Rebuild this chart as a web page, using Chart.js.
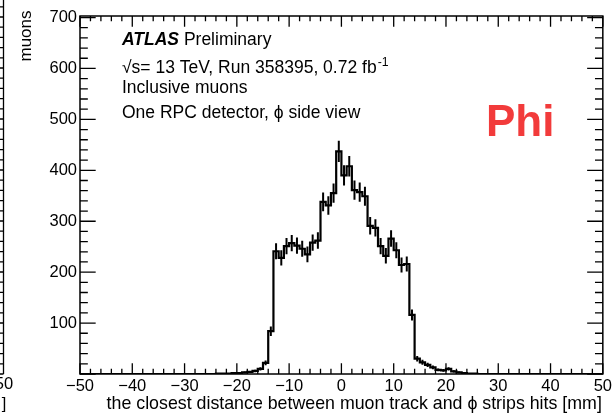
<!DOCTYPE html>
<html>
<head>
<meta charset="utf-8">
<script src="https://cdn.jsdelivr.net/npm/chart.js@4.4.0/dist/chart.umd.min.js"></script>
<style>
  html, body { margin: 0; padding: 0; background: #ffffff; }
  #wrap { width: 615px; height: 414px; position: relative; }
</style>
</head>
<body>
<div id="wrap"><canvas id="c" width="615" height="414"></canvas></div>
<script>
// Closest distance between the muon track and the phi-strip hits, 1 mm bins over [-50, 50] mm
const xRange = [-50, 50];
const binWidth = 1;
const counts = [
  0, 0, 0, 0, 0, 0, 0, 0, 0, 0,          // -50 .. -41
  0, 0, 0, 0, 0, 0, 0, 0, 0, 0,          // -40 .. -31
  0, 0, 0, 0, 0, 0, 1, 1, 1, 2,          // -30 .. -21
  2, 3, 4, 6, 10, 22, 84, 241, 228, 251, // -20 .. -11
  257, 252, 246, 235, 258, 262, 338, 331, 355, 437, // -10 .. -1
  390, 408, 361, 357, 349, 291, 287, 251, 232, 266, //   0 .. 9
  243, 214, 216, 116, 30, 23, 18, 13, 8, 7,          //  10 .. 19
  10, 5, 3, 2, 1, 1, 0, 0, 0, 0,         //  20 .. 29
  0, 0, 0, 0, 0, 0, 0, 0, 0, 0,          //  30 .. 39
  0, 0, 0, 0, 0, 0, 0, 0, 0, 0           //  40 .. 49
];
const yRange = [0, 703];
const xTickValues = [-50, -40, -30, -20, -10, 0, 10, 20, 30, 40, 50];
const yTickValues = [100, 200, 300, 400, 500, 600, 700];
const xTitle = 'the closest distance between muon track and \u03D5 strips hits [mm]';

const FONT = '"Liberation Sans", Arial, Helvetica, sans-serif';

// step outline: one point per lower bin edge plus the closing upper edge
const stepPoints = counts.map((c, i) => ({ x: xRange[0] + i * binWidth, y: c }));
stepPoints.push({ x: xRange[1], y: counts[counts.length - 1] });

// Poisson error bars at bin centres
const errorBars = {
  id: 'errorBars',
  afterDatasetsDraw(chart) {
    const { ctx, scales: { x, y } } = chart;
    ctx.save();
    ctx.beginPath();
    ctx.rect(chart.chartArea.left, chart.chartArea.top, chart.chartArea.width, chart.chartArea.height);
    ctx.clip();
    ctx.strokeStyle = '#000';
    ctx.lineWidth = 2;
    counts.forEach((c, i) => {
      if (c <= 0) return;
      const e = Math.sqrt(c);
      const px = x.getPixelForValue(xRange[0] + (i + 0.5) * binWidth);
      ctx.beginPath();
      ctx.moveTo(px, y.getPixelForValue(c - e));
      ctx.lineTo(px, y.getPixelForValue(c + e));
      ctx.stroke();
    });
    ctx.restore();
  }
};

// frame with inward ticks on all four sides, plus the text annotations
const frameAndText = {
  id: 'frameAndText',
  afterDraw(chart) {
    const { ctx, chartArea: a, scales: { x, y } } = chart;
    ctx.save();
    ctx.strokeStyle = '#000';
    ctx.lineWidth = 1.5;
    ctx.strokeRect(a.left, a.top, a.right - a.left, a.bottom - a.top);

    const xMajor = (a.bottom - a.top) * 0.03;
    const yMajor = (a.right - a.left) * 0.03;
    ctx.lineWidth = 1.3;
    ctx.beginPath();
    for (let v = xRange[0]; v <= xRange[1] + 1e-9; v += 2) {
      const px = x.getPixelForValue(v);
      const len = (v % 10 === 0) ? xMajor : xMajor / 2;
      ctx.moveTo(px, a.bottom); ctx.lineTo(px, a.bottom - len);
      ctx.moveTo(px, a.top); ctx.lineTo(px, a.top + len);
    }
    for (let v = 0; v <= yRange[1]; v += 20) {
      const py = y.getPixelForValue(v);
      const len = (v % 100 === 0) ? yMajor : yMajor / 2;
      ctx.moveTo(a.left, py); ctx.lineTo(a.left + len, py);
      ctx.moveTo(a.right, py); ctx.lineTo(a.right - len, py);
    }
    ctx.stroke();

    // x-axis title, right-aligned to the frame
    ctx.fillStyle = '#000';
    ctx.textBaseline = 'alphabetic';
    ctx.textAlign = 'right';
    ctx.font = `17.8px ${FONT}`;
    ctx.fillText(xTitle, a.right - 1, 409);

    // ATLAS label block
    ctx.textAlign = 'left';
    const tx = 122;
    const fs = 17.5;
    ctx.font = `italic bold ${fs}px ${FONT}`;
    ctx.fillText('ATLAS', tx, 45);
    let w = ctx.measureText('ATLAS').width;
    ctx.font = `${fs}px ${FONT}`;
    ctx.fillText(' Preliminary', tx + w, 45);

    const l2a = '\u221As= 13 TeV, Run 358395, 0.72 fb';
    ctx.fillText(l2a, tx, 73);
    w = ctx.measureText(l2a).width;
    ctx.font = `${fs * 0.7}px ${FONT}`;
    ctx.fillText('-1', tx + w + 1, 66);

    ctx.font = `${fs}px ${FONT}`;
    ctx.fillText('Inclusive muons', tx, 93);
    ctx.fillText('One RPC detector, \u03D5 side view', tx, 118);

    // panel tag
    ctx.fillStyle = '#f23b3b';
    ctx.font = `bold 44px ${FONT}`;
    ctx.fillText('Phi', 486, 136);

    // edge of the neighbouring panel
    ctx.fillStyle = '#000';
    ctx.strokeStyle = '#000';
    ctx.lineWidth = 1.3;
    ctx.beginPath();
    ctx.moveTo(3.5, 0); ctx.lineTo(3.5, a.bottom);
    for (let py = a.bottom; py >= 0; py -= 10.2) {
      ctx.moveTo(3.5, py); ctx.lineTo(0, py);
    }
    ctx.stroke();
    ctx.font = `16.5px ${FONT}`;
    ctx.textAlign = 'center';
    ctx.fillText('50', 4, 389);
    ctx.fillText(']', 4, 409);

    // y-axis title
    ctx.save();
    ctx.translate(31, 36);
    ctx.rotate(-Math.PI / 2);
    ctx.textAlign = 'center';
    ctx.font = `17px ${FONT}`;
    ctx.fillText('muons', 0, 0);
    ctx.restore();

    ctx.restore();
  }
};

new Chart(document.getElementById('c'), {
  type: 'line',
  data: {
    datasets: [{
      data: stepPoints,
      stepped: true,
      borderColor: '#000000',
      borderWidth: 2.2,
      pointRadius: 0,
      fill: false,
      tension: 0
    }]
  },
  options: {
    responsive: false,
    animation: false,
    events: [],
    layout: { padding: { left: 0, right: 12, top: 16, bottom: 0 } },
    plugins: { legend: { display: false }, tooltip: { enabled: false } },
    scales: {
      x: {
        type: 'linear',
        min: xRange[0],
        max: xRange[1],
        grid: { display: false, drawTicks: false },
        border: { display: false },
        afterBuildTicks: s => { s.ticks = xTickValues.map(v => ({ value: v })); },
        afterFit: s => { s.height = 40; },
        ticks: {
          autoSkip: false,
          maxRotation: 0,
          padding: 3,
          color: '#000',
          font: { family: FONT, size: 16.5 },
          callback: v => (v < 0 ? '\u2212' + Math.abs(v) : String(v))
        },
        title: { display: false }
      },
      y: {
        type: 'linear',
        min: yRange[0],
        max: yRange[1],
        grid: { display: false, drawTicks: false },
        border: { display: false },
        afterBuildTicks: s => { s.ticks = yTickValues.map(v => ({ value: v })); },
        afterFit: s => { s.width = 80; },
        ticks: {
          padding: 3,
          color: '#000',
          font: { family: FONT, size: 16.5 }
        }
      }
    }
  },
  plugins: [errorBars, frameAndText]
});
</script>
</body>
</html>
